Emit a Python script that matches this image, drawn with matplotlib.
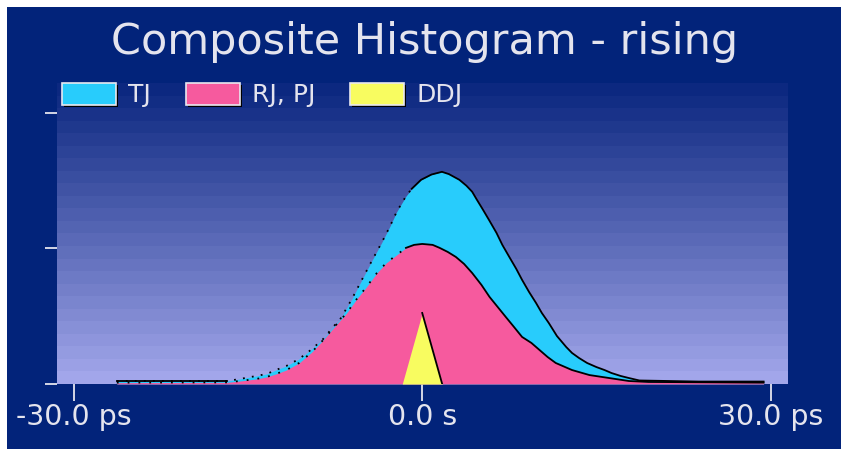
import numpy as np
import matplotlib
matplotlib.use('Agg')
import matplotlib.pyplot as plt
from matplotlib.patches import Patch, Rectangle
import matplotlib.patheffects as pe

# time axis in ps, heights in arbitrary histogram units (tick spacing = 1)
tj_x = [-26.3, -16.8, -15.7, -14.3, -13.4, -12.6, -11.7, -10.6, -9.7, -8.6, -7.6,
        -7.1, -6.1, -5.2, -4.3, -3.5, -2.8, -2.2, -1.4, -0.9, -0.1, 0.8, 1.7, 2.3,
        3.2, 3.8, 4.3, 4.7, 5.2, 5.8, 6.4, 6.9, 7.5, 8.1, 8.6, 9.2, 9.8, 10.3,
        10.9, 11.6, 12.4, 12.9, 13.5, 14.2, 15.0, 15.7, 16.3, 17.1, 17.8, 18.7,
        23.8, 29.4]
tj_y = [0.022, 0.022, 0.037, 0.059, 0.074, 0.103, 0.133, 0.185, 0.244, 0.325, 0.428,
        0.472, 0.620, 0.768, 0.915, 1.041, 1.159, 1.270, 1.385, 1.440, 1.506, 1.545,
        1.565, 1.548, 1.506, 1.463, 1.418, 1.360, 1.290, 1.203, 1.114, 1.026, 0.937,
        0.849, 0.768, 0.679, 0.598, 0.524, 0.450, 0.354, 0.273, 0.229, 0.192, 0.155,
        0.125, 0.103, 0.081, 0.059, 0.044, 0.026, 0.018, 0.018]

rp_x = [-26.3, -16.8, -15.7, -14.3, -13.4, -12.6, -11.7, -10.6, -9.5, -8.6, -7.6,
        -6.5, -5.7, -4.8, -3.9, -3.1, -2.2, -1.4, -0.7, 0.0, 0.9, 1.5, 2.2, 2.9,
        3.6, 4.3, 5.1, 5.8, 6.5, 7.2, 7.9, 8.6, 9.4, 10.1, 10.8, 11.5, 12.9, 14.4,
        16.1, 17.8, 19.5, 29.4]
rp_y = [0.010, 0.012, 0.022, 0.037, 0.052, 0.074, 0.103, 0.155, 0.236, 0.318, 0.418,
        0.524, 0.620, 0.716, 0.819, 0.893, 0.952, 1.004, 1.026, 1.033, 1.026, 1.004,
        0.974, 0.937, 0.886, 0.819, 0.731, 0.642, 0.568, 0.494, 0.421, 0.347, 0.303,
        0.251, 0.199, 0.155, 0.103, 0.066, 0.044, 0.022, 0.015, 0.010]

ddj_x = [-1.72, 0.0, 1.72]
ddj_y = [0.0, 0.524, 0.0]

tick_pos = [-30, 0, 30]
tick_labels = ['-30.0 ps', '0.0 s', '30.0 ps']

NAVY = '#02237a'
TXT = '#e4e4ee'
C_TJ = '#28ccfc'
C_RP = '#f65a9e'
C_DDJ = '#f8fc60'

fig = plt.figure(figsize=(8.41, 4.49), dpi=100, facecolor='white')
fig.patches.append(Rectangle((7 / 841, 0), 1, 1 - 7 / 449, transform=fig.transFigure,
                             facecolor=NAVY, edgecolor='none', zorder=-10))

ax = fig.add_axes([57 / 841, 65 / 449, 731 / 841, 301 / 449])
xlim = (-31.45, 31.5)
ylim = (0, 2.22)
ax.set_xlim(xlim)
ax.set_ylim(ylim)

# banded background gradient
n_band = 24
top = np.array([12, 40, 128]) / 255
bot = np.array([162, 166, 234]) / 255
t = np.linspace(0, 1, n_band)[:, None]
grad = (top * (1 - t) + bot * t)[:, None, :]
ax.imshow(grad, extent=[xlim[0], xlim[1], ylim[0], ylim[1]], aspect='auto',
          interpolation='nearest', origin='upper', zorder=0)

ax.fill_between(tj_x, tj_y, 0, color=C_TJ, lw=0, zorder=2)
ax.fill_between(rp_x, rp_y, 0, color=C_RP, lw=0, zorder=3)
ax.fill_between(ddj_x, ddj_y, 0, color=C_DDJ, lw=0, zorder=4)

# outlines: solid on the right flank, sparse dots on the rising side
tx, ty = np.array(tj_x), np.array(tj_y)
rx, ry = np.array(rp_x), np.array(rp_y)
ax.plot(tx[tx >= -0.9], ty[tx >= -0.9], color='black', lw=1.3, zorder=5)
ax.plot(tx[tx <= -0.9], ty[tx <= -0.9], color='black', lw=1.3, ls=(0, (1, 4)), zorder=5)
ax.plot(tx[tx <= -16.8], ty[tx <= -16.8], color='black', lw=1.3, zorder=5)
ax.plot(rx[rx >= -1.4], ry[rx >= -1.4], color='black', lw=1.3, zorder=5)
ax.plot(rx[rx <= -1.4], ry[rx <= -1.4], color='black', lw=1.3, ls=(0, (1, 5)), zorder=5)
ax.plot(ddj_x[1:], ddj_y[1:], color='black', lw=1.3, zorder=6)

for s in ax.spines.values():
    s.set_visible(False)
ax.set_facecolor(NAVY)

ax.set_xticks(tick_pos)
ax.set_xticklabels(tick_labels)
ax.set_yticks([0, 1, 2])
ax.set_yticklabels([])
ax.tick_params(axis='x', direction='out', length=12, width=1.3, color=TXT,
               labelcolor=TXT, labelsize=20.5, pad=2)
ax.tick_params(axis='y', direction='out', length=8.5, width=1.3, color=TXT)

fig.text(0.5 + 4 / 841, 1 - 42 / 449, 'Composite Histogram - rising', ha='center',
         va='center', color=TXT, fontsize=31)

shadow = [pe.withSimplePatchShadow(offset=(1.5, -1.5), shadow_rgbFace='black', alpha=1.0)]
handles = [Patch(facecolor=C_TJ, edgecolor='#e8e8f0', lw=1.2, label='TJ', path_effects=shadow),
           Patch(facecolor=C_RP, edgecolor='#e8e8f0', lw=1.2, label='RJ, PJ', path_effects=shadow),
           Patch(facecolor=C_DDJ, edgecolor='#e8e8f0', lw=1.2, label='DDJ', path_effects=shadow)]
fig.legend(handles=handles, loc='center left', bbox_to_anchor=(62 / 841, 1 - 95 / 449),
           ncol=3, frameon=False, fontsize=18, labelcolor=TXT, handlelength=2.16,
           handleheight=0.96, handletextpad=0.48, columnspacing=1.4, borderpad=0,
           borderaxespad=0)

fig.savefig('out.png', dpi=100, facecolor=fig.get_facecolor())
